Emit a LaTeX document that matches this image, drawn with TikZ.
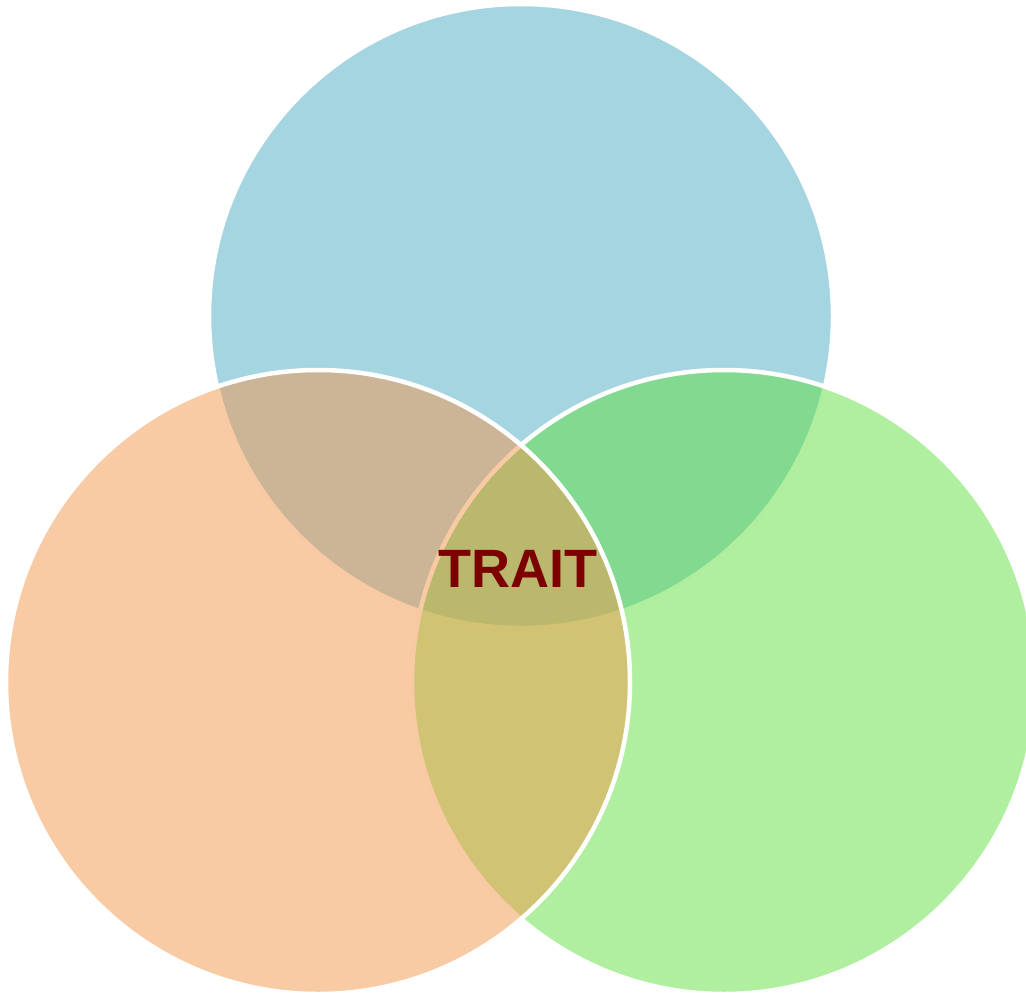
\documentclass[tikz,border=0pt]{standalone}
\usepackage{fontspec}
\setmainfont{Liberation Sans}
\definecolor{vennblue}{RGB}{75,171,195}
\definecolor{venngreen}{RGB}{97,223,65}
\definecolor{vennorange}{RGB}{243,151,75}
\definecolor{traitred}{RGB}{124,0,0}
\begin{document}
\begin{tikzpicture}[x=1pt,y=-1pt,
  venn/.style={circle, inner sep=0pt, outer sep=0pt, minimum size=624pt,
    draw=white, line width=4.5pt, fill opacity=0.5, draw opacity=1}]
  \useasboundingbox (0,0) rectangle (1026,994);
  \clip (0,0) rectangle (1026,994);
  % three overlapping sets, drawn in stacking order
  \node[venn, fill=vennblue]   (top)   at (521,316) {};
  \node[venn, fill=venngreen]  (right) at (724,682) {};
  \node[venn, fill=vennorange] (left)  at (318,682) {};
  % label of the common region
  \node[font=\bfseries\fontsize{54}{60}\selectfont, text=traitred,
    inner sep=0pt, anchor=base] (trait) at (518,587) {TRAIT};
\end{tikzpicture}
\end{document}
